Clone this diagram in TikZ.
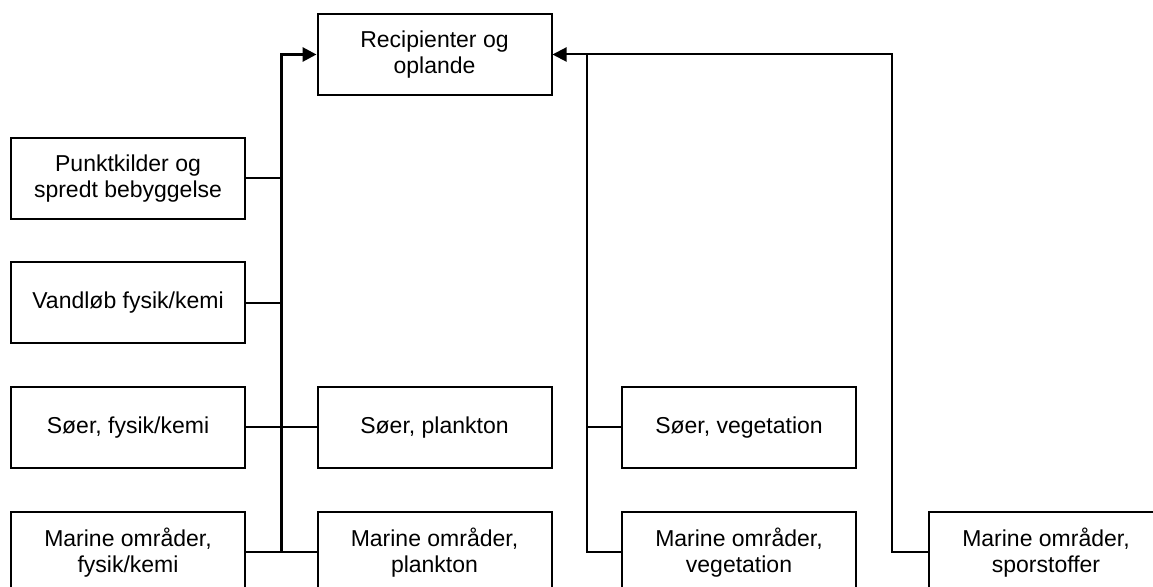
\documentclass[tikz,border=0pt]{standalone}
\usepackage{fontspec}
\setmainfont{Liberation Sans}
\usetikzlibrary{arrows.meta}
\usetikzlibrary{positioning}
\tikzset{box/.style = {draw, line width=1pt, minimum width=117pt, minimum height=40.5pt,
                       align=center, inner sep=0pt, font=\fontsize{11.5}{13.2}\selectfont},
         link/.style = {line width=1pt},
         mainlink/.style = {line width=1.5pt},
         tip/.style = {-{Triangle[length=7pt,width=7pt]}}}
\begin{document}
\begin{tikzpicture}[x=0.5pt, y=-0.5pt]
      \clip (0, 0) rectangle (1153, 587);
      \node [box] (top) at (434.5, 54.5) {Recipienter og\\oplande};
      \node [box] (punkt) at (128, 178.5) {Punktkilder og\\spredt bebyggelse};
      \node [box] (vand) at (128, 303) {Vandløb fysik/kemi};
      \node [box] (sfys) at (128, 427.5) {Søer, fysik/kemi};
      \node [box] (mfys) at (128, 552.5) {Marine områder,\\fysik/kemi};
      \node [box] (splank) at (434.5, 427.5) {Søer, plankton};
      \node [box] (mplank) at (434.5, 552.5) {Marine områder,\\plankton};
      \node [box] (sveg) at (739, 427.5) {Søer, vegetation};
      \node [box] (mveg) at (739, 552.5) {Marine områder,\\vegetation};
      \node [box] (mspor) at (1046, 552.5) {Marine områder,\\sporstoffer};
      \coordinate (busl) at (281, 54.5);
      \coordinate (busm) at (586.5, 54.5);
      \coordinate (busr) at (891.5, 54.5);
      \draw [link] (mfys.east) -- (mplank.west);
      \draw [mainlink, tip] (busl |- mfys.east) |- (top.west);
      \draw [link] (punkt.east) -- (busl |- punkt.east);
      \draw [link] (vand.east) -- (busl |- vand.east);
      \draw [link] (sfys.east) -- (splank.west);
      \draw [link, tip] (mspor.west) -- (busr |- mspor.west) |- (top.east);
      \draw [link] (mveg.west) -- (busm |- mveg.west) -- (busm);
      \draw [link] (sveg.west) -- (busm |- sveg.west);
    \end{tikzpicture}
\end{document}
